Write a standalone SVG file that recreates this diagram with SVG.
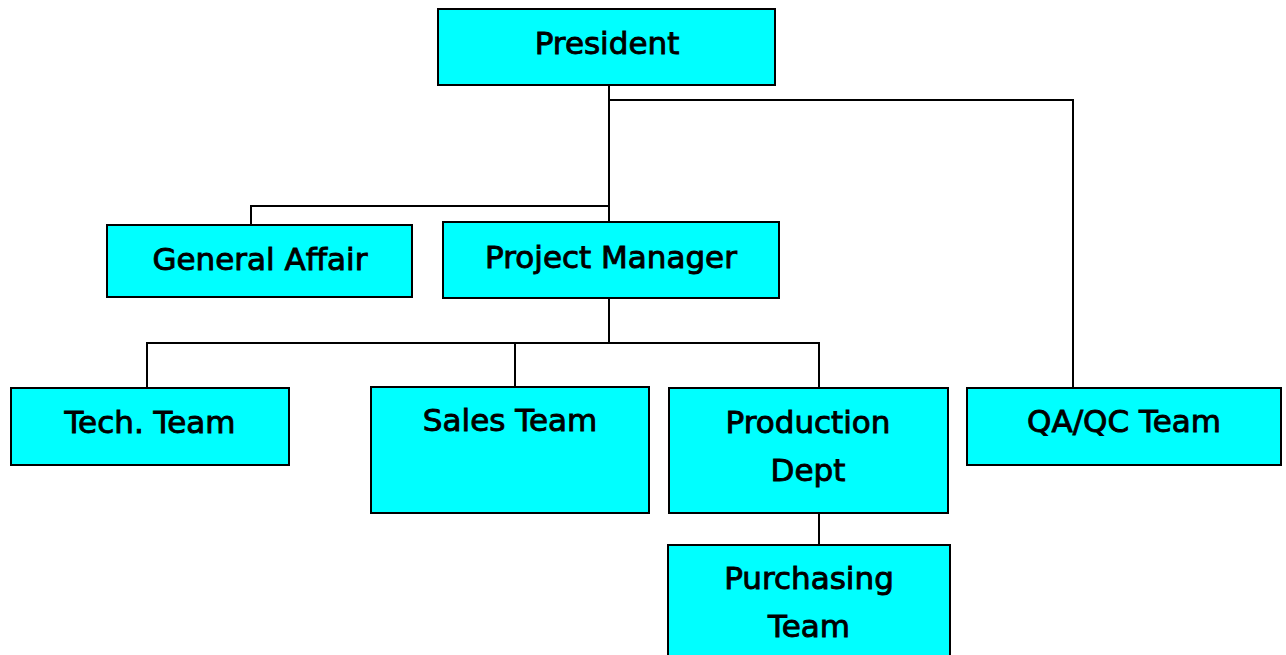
<svg xmlns="http://www.w3.org/2000/svg" width="1286" height="655" viewBox="0 0 1286 655">
<style>
.box{fill:#00FFFF;stroke:#000;stroke-width:2}
.lbl{font-family:"DejaVu Sans",sans-serif;font-size:31px;fill:#000;stroke:#000;stroke-width:0.9;text-anchor:middle}
.con{fill:none;stroke:#000;stroke-width:2}
</style>
<rect width="1286" height="655" fill="#fff"/>
<g id="connectors">
<polyline class="con" points="609,86 609,222"/>
<polyline class="con" points="609,100 1073,100 1073,388"/>
<polyline class="con" points="609,206 251,206 251,225"/>
<polyline class="con" points="609,298 609,343"/>
<polyline class="con" points="147,388 147,343 819,343 819,388"/>
<polyline class="con" points="515,343 515,387"/>
<polyline class="con" points="819,513 819,545"/>
</g>
<g id="president"><rect class="box" x="438" y="9" width="337" height="76"/><text class="lbl" x="607" y="54">President</text></g>
<g id="general-affair"><rect class="box" x="107" y="225" width="305" height="72"/><text class="lbl" x="260" y="270">General Affair</text></g>
<g id="project-manager"><rect class="box" x="443" y="222" width="336" height="76"/><text class="lbl" x="611" y="268">Project Manager</text></g>
<g id="tech-team"><rect class="box" x="11" y="388" width="278" height="77"/><text class="lbl" x="150" y="433">Tech. Team</text></g>
<g id="sales-team"><rect class="box" x="371" y="387" width="278" height="126"/><text class="lbl" x="510" y="431">Sales Team</text></g>
<g id="production-dept"><rect class="box" x="669" y="388" width="279" height="125"/><text class="lbl" x="808" y="433">Production</text><text class="lbl" x="808" y="481">Dept</text></g>
<g id="purchasing-team"><rect class="box" x="668" y="545" width="282" height="120"/><text class="lbl" x="809" y="589">Purchasing</text><text class="lbl" x="809" y="637">Team</text></g>
<g id="qa-qc-team"><rect class="box" x="967" y="388" width="314" height="77"/><text class="lbl" x="1124" y="432">QA/QC Team</text></g>
</svg>
